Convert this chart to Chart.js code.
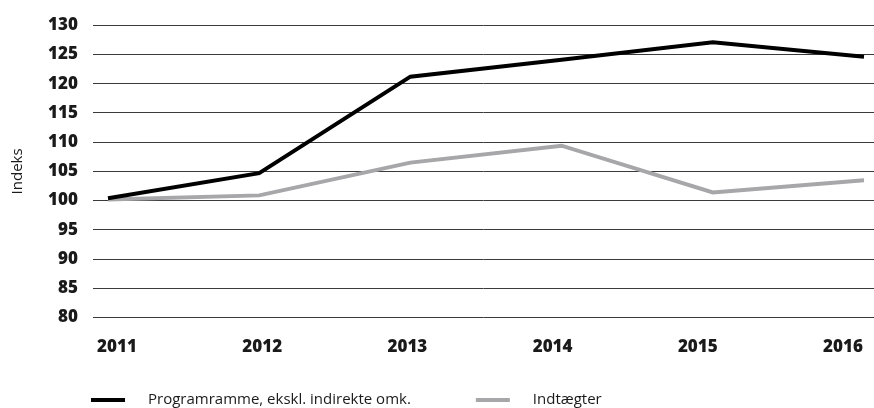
<!DOCTYPE html>
<html>
<head>
<meta charset="utf-8">
<script src="https://cdn.jsdelivr.net/npm/chart.js@4"></script>
<style>
  html, body { margin: 0; padding: 0; background: #fff; }
  #wrap { width: 874px; height: 408px; position: relative; }
</style>
</head>
<body>
<div id="wrap"><canvas id="indeksChart"></canvas></div>
<script>
const years = ['2011', '2012', '2013', '2014', '2015', '2016'];
const programramme = [100.4, 104.7, 121.2, 124.1, 127.1, 124.6];
const indtaegter = [100.2, 100.9, 106.5, 109.4, 101.4, 103.5];
const yTicks = [80, 85, 90, 95, 100, 105, 110, 115, 120, 125, 130];

document.addEventListener('DOMContentLoaded', function () {
    const ctx = document.getElementById('indeksChart').getContext('2d');

    const toPoints = arr => arr.map((v, i) => ({x: i, y: v}));

    // legend drawn by hand so the spacing matches the original
    const bottomLegend = {
        id: 'bottomLegend',
        afterDraw(chart) {
            const c = chart.ctx;
            c.save();
            c.font = '15px "Open Sans"';
            c.textBaseline = 'middle';
            let x = 91;
            const y = 400;
            chart.data.datasets.forEach(ds => {
                c.fillStyle = ds.borderColor;
                c.fillRect(x, y - 2, 34, 4);
                x += 34 + 23;
                c.fillStyle = '#1a1a1a';
                c.fillText(ds.label, x, y);
                x += c.measureText(ds.label).width + 65;
            });
            c.restore();
        }
    };

    const tickFont = {family: '"Open Sans"', size: 17, weight: '800'};

    new Chart(ctx, {
        type: 'line',
        data: {
            datasets: [
                {
                    label: 'Programramme, ekskl. indirekte omk.',
                    data: toPoints(programramme),
                    borderColor: '#000000',
                    backgroundColor: '#000000',
                    borderWidth: 4,
                    pointRadius: 0,
                    tension: 0,
                    fill: false,
                    xAxisID: 'x'
                },
                {
                    label: 'Indtægter',
                    data: toPoints(indtaegter),
                    borderColor: '#a7a7a9',
                    backgroundColor: '#a7a7a9',
                    borderWidth: 4,
                    pointRadius: 0,
                    tension: 0,
                    fill: false,
                    xAxisID: 'x'
                }
            ]
        },
        plugins: [bottomLegend],
        options: {
            responsive: true,
            maintainAspectRatio: false,
            animation: false,
            layout: {
                padding: {top: 13, right: 0, bottom: 49, left: 0}
            },
            plugins: {
                legend: {display: false},
                tooltip: {enabled: false}
            },
            scales: {
                x: {
                    type: 'linear',
                    display: false,
                    min: -0.0992,
                    max: 5.066
                },
                x2: {
                    type: 'linear',
                    position: 'bottom',
                    min: -0.1653,
                    max: 5.2135,
                    afterBuildTicks: scale => {
                        scale.ticks = years.map((y, i) => ({value: i}));
                    },
                    grid: {
                        display: true,
                        drawOnChartArea: false,
                        drawTicks: true,
                        tickLength: 17,
                        tickColor: 'rgba(0,0,0,0)'
                    },
                    border: {display: false},
                    ticks: {
                        padding: 2,
                        maxRotation: 0,
                        autoSkip: false,
                        color: '#1a1a1a',
                        font: tickFont,
                        callback: value => years[value]
                    }
                },
                y: {
                    min: 80,
                    max: 130,
                    afterBuildTicks: scale => {
                        scale.ticks = yTicks.map(v => ({value: v}));
                    },
                    afterFit: scale => {
                        scale.width = 93;
                    },
                    grid: {
                        color: '#3a3a3a',
                        lineWidth: 1,
                        drawTicks: false
                    },
                    border: {display: false},
                    ticks: {
                        padding: 15,
                        color: '#1a1a1a',
                        font: tickFont
                    },
                    title: {
                        display: true,
                        text: 'Indeks',
                        color: '#1a1a1a',
                        font: {family: '"Open Sans"', size: 15},
                        padding: {top: 9, bottom: 0}
                    }
                }
            }
        }
    });
});
</script>
</body>
</html>
